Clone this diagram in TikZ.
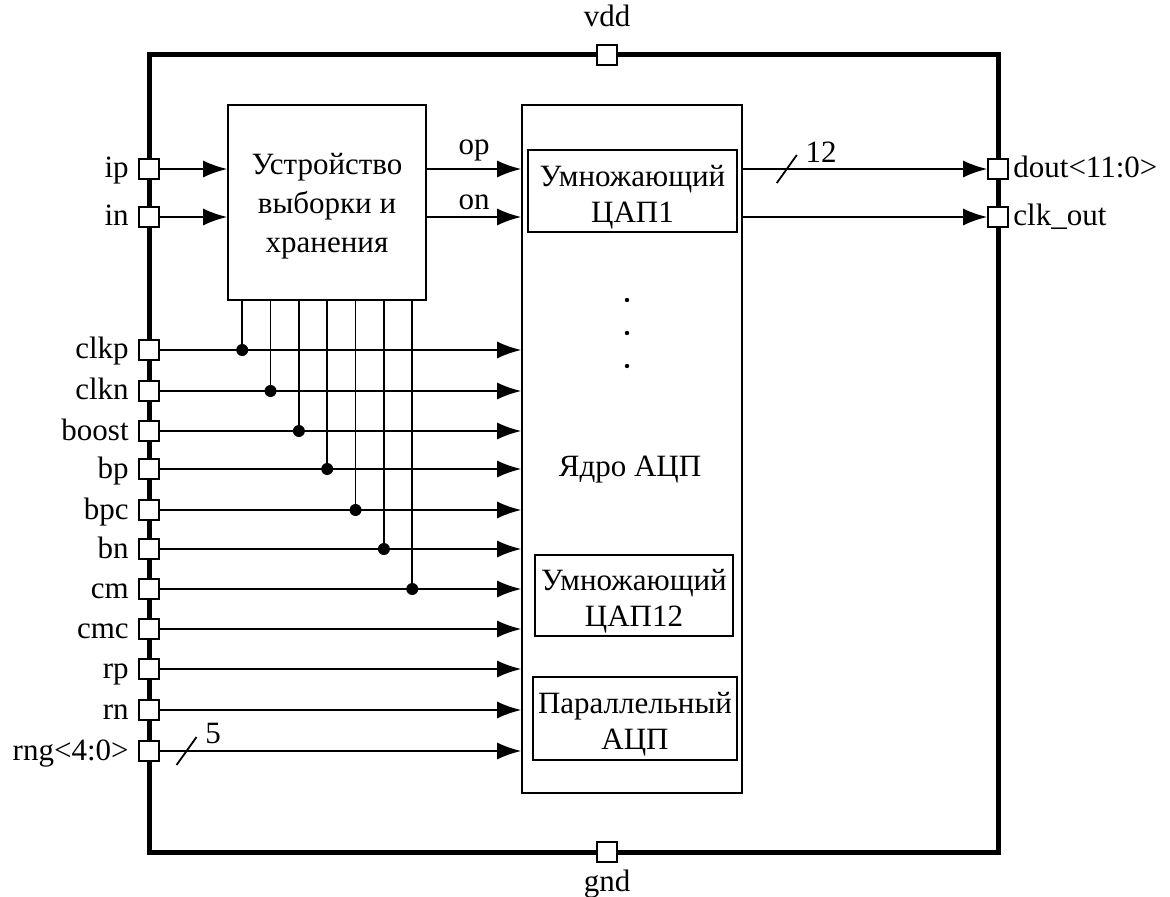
\documentclass[tikz,border=0pt]{standalone}
\usepackage{fontspec}
\setmainfont{Liberation Serif}
\usepackage{tikz}
\usetikzlibrary{positioning}
\usetikzlibrary{arrows.meta}

\tikzset{
  pinbox/.style={draw, fill=white, line width=0.8pt, minimum size=10pt, inner sep=0pt},
  block/.style={draw, line width=0.8pt, inner sep=2pt},
  blocktext/.style={align=center},
  tap/.style={circle, fill, inner sep=0pt, minimum size=6pt},
  pics/bus/.style={code={
    \draw (-5pt,-7pt) -- (5pt,7pt);
    \node[anchor=south west, inner sep=1pt] at (8pt,2pt) {#1};}}
}

\begin{document}
\begin{tikzpicture}[x=0.5pt, y=-0.5pt, >={Latex[length=12pt,width=8.5pt]}, line width=0.9pt,
                    every node/.style={font=\fontsize{15.5}{18}\selectfont}]
\useasboundingbox (0,0) rectangle (1170,897);

% outer frame
\draw[line width=2.5pt] (149,55) rectangle (998,852);

% blocks
\node[block, minimum width=99pt, minimum height=97.5pt] (sh) at (327,202.5) {};
\node[blocktext] at ([yshift=-2pt]sh.center) {Устройство\\[1.5pt]выборки и\\[1.5pt]хранения};
\node[block, minimum width=110pt, minimum height=344pt] (core) at (632,449) {};
\node[block, minimum width=104.5pt, minimum height=41pt] (dac1) at (632.5,191) {};
\node[blocktext] at ([yshift=-3pt]dac1.center) {Умножающий\\ЦАП1};
\node[block, minimum width=99pt, minimum height=40.5pt] (dac12) at (634,595.5) {};
\node[blocktext] at ([yshift=-3pt]dac12.center) {Умножающий\\ЦАП12};
\node[block, minimum width=102pt, minimum height=41.5pt] (flash) at (635,718.5) {};
\node[blocktext] at ([yshift=-3pt]flash.center) {Параллельный\\АЦП};
\node (corename) at (630,470) {Ядро АЦП};
\foreach \y in {300,333,366}
  \fill (627,\y) circle (1.1pt);

% input pins
\foreach \name/\y/\txt in {ip/169/ip, in/217/in, clkp/350/clkp, clkn/391/clkn,
                           boost/431/boost, bp/469/bp, bpc/510/bpc, bn/549/bn,
                           cm/589/cm, cmc/629/cmc, rp/669/rp, rn/710/rn, rng/751/rng<4:0>}
{
  \node[pinbox] (\name) at (149,\y) {};
  \node[base left=1pt of \name, yshift=-4.5pt] {\txt};
}

% output and supply pins
\node[pinbox] (dout) at (998,169) {};
\node[base right=-1.5pt of dout, yshift=-4.5pt] {dout<11:0>};
\node[pinbox] (clkout) at (998,217) {};
\node[base right=-1.5pt of clkout, yshift=-4.5pt] {clk\_out};
\node[pinbox] (vdd) at (607,55) {};
\node[above=5pt of vdd] {vdd};
\node[pinbox] (gnd) at (607,852) {};
\node[below=0pt of gnd] {gnd};

% signals
\foreach \name in {ip,in}
  \draw[->] (\name.east) -- (\name.east -| sh.west);
\foreach \name in {clkp,clkn,boost,bp,bpc,bn,cm,cmc,rp,rn}
  \draw[->] (\name.east) -- (\name.east -| core.west);
\draw[->] (rng.east) -- coordinate[pos=0.074] (rngbus) (rng.east -| core.west);
\pic at (rngbus) {bus=5};

\draw[->] (sh.east |- ip.east) -- node[above]{op} (core.west |- ip.east);
\draw[->] (sh.east |- in.east) -- node[above]{on} (core.west |- in.east);

\foreach \name [count=\i] in {clkp,clkn,boost,bp,bpc,bn,cm}
  \draw ([xshift={7.5pt+14.17pt*(\i-1)}]sh.south west) coordinate (t)
        -- (t |- \name.east) node[tap]{};

\draw[->] (core.east |- dout.west) -- coordinate[pos=0.18] (doutbus) (dout.west);
\pic at (doutbus) {bus=12};
\draw[->] (core.east |- clkout.west) -- (clkout.west);
\end{tikzpicture}
\end{document}
